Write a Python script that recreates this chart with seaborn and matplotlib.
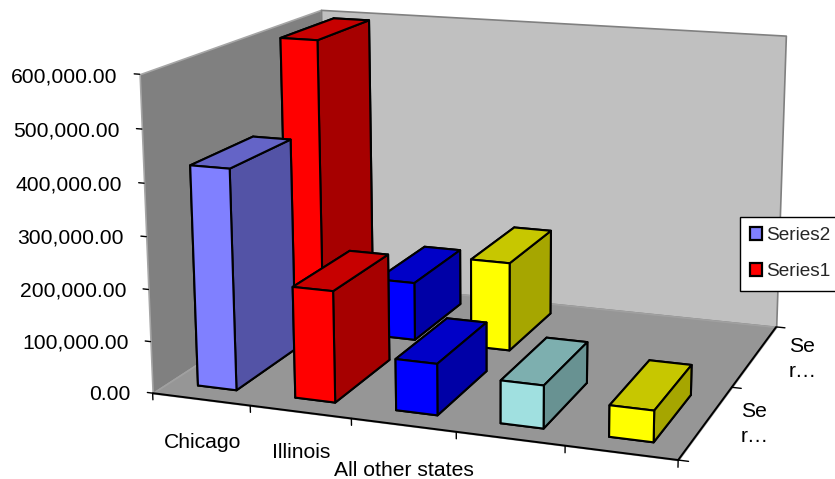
import numpy as np
import seaborn as sns
import matplotlib
matplotlib.use("Agg")
import matplotlib.pyplot as plt
from matplotlib.patches import Patch
from mpl_toolkits.mplot3d import proj3d
from mpl_toolkits.mplot3d.art3d import Poly3DCollection

# Chart values
categories = ["Chicago", "Illinois", "All other states", "", ""]
series_labels = ["Series2", "Series1"]
front_values = [423000, 212000, 97000, 80000, 58000]
back_values = [595000, 118000, 178000]
front_colors = ["#8080ff", "#ff0000", "#0000ff", "#a0e0e0", "#ffff00"]
back_colors = ["#ff0000", "#0000ff", "#ffff00"]
value_ticks = [0, 100000, 200000, 300000, 400000, 500000, 600000]

W, H = 835, 479
ZMAX = 600000.0

# Calibration of the oblique camera: (category pos, series pos, value/ZMAX) -> pixel
camera_refs = [
    (0, 0, 0, 153, 393), (1, 0, 0, 250.7, 406), (2, 0, 0, 351.3, 420),
    (3, 0, 0, 455.7, 433), (4, 0, 0, 564, 446), (5, 0, 0, 677, 458),
    (5, 1, 0, 735, 387), (5, 2, 0, 775, 327), (0, 2, 0, 326, 280),
    (0, 0, 1, 139.5, 74), (0, 2, 1, 321, 10), (5, 2, 1, 786, 36),
    (0, 0, 1/6, 151, 341), (0, 0, 2/6, 148.5, 289), (0, 0, 3/6, 146, 237),
    (0, 0, 4/6, 144, 183), (0, 0, 5/6, 142, 129),
]


def fit_camera(refs):
    rows = []
    for x, y, z, u, v in refs:
        v = H - v
        rows.append([x, y, z, 1, 0, 0, 0, 0, -u*x, -u*y, -u*z, -u])
        rows.append([0, 0, 0, 0, x, y, z, 1, -v*x, -v*y, -v*z, -v])
    _, _, vt = np.linalg.svd(np.array(rows, dtype=float))
    p = vt[-1].reshape(3, 4)
    p = p / p[2, 3]
    scale = np.array([1, 1, 1 / ZMAX, 1])
    return np.vstack([p[0] * scale, p[1] * scale,
                      np.array([-0.1, 1, -0.2, 0]) * scale, p[2] * scale])


sns.set_theme(style="white")
plt.rcParams["font.family"] = ["Liberation Sans", "DejaVu Sans"]

fig = plt.figure(figsize=(W / 100, H / 100), dpi=100, facecolor="white")
side = W / H
ax = fig.add_axes([0, (1 - side) / 2, 1, side], projection="3d",
                  computed_zorder=False)
ax.set_axis_off()
ax.patch.set_visible(False)
ax.set_proj_type("ortho")
camera = fit_camera(camera_refs)
ax.get_proj = lambda: camera

x_end, y_end = len(categories), 2


def label_at(x, y, z, text, nudge_down=0, **kwargs):
    # Figure text anchored on a projected data position
    u, v, _ = proj3d.proj_transform(x, y, z, camera)
    fig.text(u / W, (v - nudge_down) / H, text, color="black", fontsize=15.2, **kwargs)


def wall(verts, face, edge, zorder):
    ax.add_collection3d(Poly3DCollection([verts], facecolors=face, edgecolors=edge,
                                         linewidths=1.2, zorder=zorder))


wall([(0, 0, 0), (0, 0, ZMAX), (0, y_end, ZMAX), (0, y_end, 0)], "#808080", "#a6a6a6", 1)
wall([(0, y_end, 0), (0, y_end, ZMAX), (x_end, y_end, ZMAX), (x_end, y_end, 0)],
     "#c0c0c0", "#808080", 1)
wall([(0, 0, 0), (x_end, 0, 0), (x_end, y_end, 0), (0, y_end, 0)], "#969696", "#a0a0a0", 2)

# Axis lines and tick marks
ax.plot([0, x_end, x_end], [0, 0, y_end], [0, 0, 0], color="black", lw=1.4,
        solid_capstyle="butt", zorder=3)
for i in range(x_end + 1):
    ax.plot([i, i], [0, 0], [0, -13000], color="black", lw=1, zorder=3)
for j in range(y_end + 1):
    ax.plot([x_end, x_end + 0.09], [j, j], [0, 0], color="black", lw=1, zorder=3)
for z in value_ticks:
    ax.plot([-0.055, 0], [0, 0], [z, z], color="black", lw=1, zorder=3)
    label_at(-0.23, 0, z, f"{z:,.2f}", nudge_down=4, ha="right", va="center")


def shade(color, factor):
    return tuple(np.array(matplotlib.colors.to_rgb(color)) * factor)


def bar(i, row, value, color, zorder):
    # Face order used by bar3d: bottom, top, front, back, left, right
    faces = [shade(color, 0.6), shade(color, 0.78), color, shade(color, 0.6),
             shade(color, 0.6), shade(color, 0.65)]
    ax.bar3d(i + 0.295, row + 0.17, 0, 0.4, 0.66, value, color=faces, shade=False,
             edgecolor="black", linewidth=1.5, zorder=zorder)


order = 4
for i, (v, c) in enumerate(zip(back_values, back_colors)):
    bar(i, 1, v, c, order + i)
order += len(back_values)
for i, (v, c) in enumerate(zip(front_values, front_colors)):
    bar(i, 0, v, c, order + i)

# Category labels sit on staggered rows below the front edge
label_drop = [-78000, -72000, -80000]
for i, name in enumerate(categories[:3]):
    label_at(i + 0.5, 0, label_drop[i], name, nudge_down=3, ha="center", va="center")

for px, py in [(741, 424), (789, 359)]:
    fig.text(px / W, 1 - py / H, "Se\nr…", ha="left", va="center", fontsize=15.2,
             color="black", linespacing=1.4)

handles = [Patch(facecolor="#8080ff", edgecolor="black", linewidth=1.6),
           Patch(facecolor="#ff0000", edgecolor="black", linewidth=1.6)]
leg = fig.legend(handles, series_labels, loc="upper left",
                 bbox_to_anchor=(739.7 / W, 1 - 216.7 / H), borderaxespad=0,
                 fontsize=13.7, frameon=True, fancybox=False, framealpha=1,
                 edgecolor="black", facecolor="white", handlelength=0.62,
                 handleheight=0.62, handletextpad=0.2, labelspacing=1.0,
                 borderpad=0.55)
leg.get_frame().set_linewidth(1.0)

ax.viewLim.intervalx = (0, W)
ax.viewLim.intervaly = (H / 2 - W / 2, H / 2 + W / 2)
fig.savefig("out.png", dpi=100, facecolor="white")
